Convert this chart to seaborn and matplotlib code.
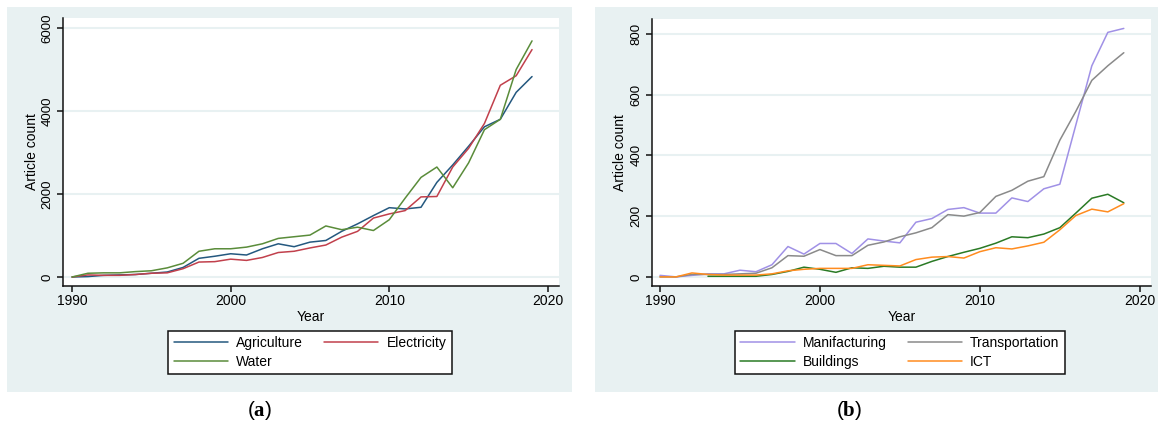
import numpy as np
import pandas as pd
import matplotlib
matplotlib.use("Agg")
import matplotlib.pyplot as plt
from matplotlib.patches import Rectangle
import seaborn as sns

years = list(range(1990, 2020))

# Panel (a)
agriculture = [0, 10, 40, 50, 60, 90, 120, 230, 450, 500, 560, 530, 680, 800, 730,
               840, 880, 1100, 1280, 1480, 1670, 1640, 1680, 2280, 2700, 3150, 3620,
               3800, 4450, 4830]
electricity = [0, 50, 40, 40, 60, 90, 100, 200, 360, 370, 430, 400, 470, 590, 620,
               700, 770, 960, 1100, 1420, 1520, 1600, 1930, 1940, 2650, 3100, 3700,
               4620, 4850, 5480]
water = [0, 90, 100, 100, 130, 150, 220, 330, 620, 680, 680, 720, 800, 930, 970,
         1010, 1230, 1140, 1200, 1120, 1380, 1900, 2400, 2650, 2150, 2750, 3550,
         3800, 5000, 5690]

# Panel (b)
manufacturing = [5, 0, 5, 10, 10, 22, 17, 40, 100, 75, 110, 110, 77, 125, 118,
                 112, 180, 192, 222, 228, 210, 210, 260, 248, 290, 305, 500, 695,
                 805, 818]
transportation = [0, 0, 8, 8, 8, 10, 12, 30, 70, 68, 90, 70, 70, 104, 115,
                  132, 145, 162, 205, 200, 212, 265, 285, 315, 330, 450, 545, 647,
                  695, 738]
buildings = [np.nan, np.nan, np.nan, 2, 2, 2, 2, 8, 18, 32, 25, 15, 30, 28, 35,
             32, 32, 51, 67, 81, 94, 111, 132, 129, 141, 162, 210, 259, 272, 244]
ict = [0, 0, 13, 8, 6, 6, 6, 10, 20, 25, 28, 28, 28, 40, 38,
       36, 57, 65, 67, 62, 83, 96, 92, 102, 114, 155, 202, 223, 214, 241]

sectors_a = ["Agriculture", "Electricity", "Water"]
colors_a = ["#24587f", "#c1404c", "#5a8c3a"]
sectors_b = ["Manifacturing", "Transportation", "Buildings", "ICT"]
colors_b = ["#a091e6", "#8a8a8a", "#2a7a25", "#ff8c1f"]

df_a = pd.DataFrame({"Year": years * 3,
                     "Count": agriculture + electricity + water,
                     "Sector": sum([[s] * len(years) for s in sectors_a], [])})
df_b = pd.DataFrame({"Year": years * 4,
                     "Count": manufacturing + transportation + buildings + ict,
                     "Sector": sum([[s] * len(years) for s in sectors_b], [])})

sns.set_theme(style="white")
plt.rcParams["font.family"] = ["Liberation Sans", "DejaVu Sans"]
plt.rcParams["mathtext.fontset"] = "custom"
plt.rcParams["mathtext.rm"] = "Liberation Serif"
plt.rcParams["mathtext.bf"] = "Liberation Serif:bold"

W, H = 1158, 423
fig = plt.figure(figsize=(W / 100, H / 100), dpi=100)
fig.patch.set_facecolor("white")

BG = "#e8f1f2"
TXT = "#000000"

def fx(px):
    return px / W

def fy(py):
    return 1 - py / H

# background panels
for (x0, x1) in [(7, 572), (595, 1158)]:
    fig.patches.append(Rectangle((fx(x0), fy(392)), fx(x1) - fx(x0), fy(7) - fy(392),
                                 transform=fig.transFigure, facecolor=BG,
                                 edgecolor="none", zorder=-10))

def make_axes(x0, x1, y0, y1):
    ax = fig.add_axes([fx(x0), fy(y1), fx(x1) - fx(x0), fy(y0) - fy(y1)])
    ax.set_facecolor("white")
    ax.set_zorder(2)
    return ax

ax_a = make_axes(63, 559, 18, 286)
ax_b = make_axes(652, 1151, 19, 286)

sns.lineplot(data=df_a, x="Year", y="Count", hue="Sector", palette=colors_a,
             hue_order=sectors_a, ax=ax_a, linewidth=1.1, legend=True)
sns.lineplot(data=df_b, x="Year", y="Count", hue="Sector", palette=colors_b,
             hue_order=sectors_b, ax=ax_b, linewidth=1.1, legend=True)

ax_a.set_xlim(1989.43, 2020.7)
ax_a.set_ylim(-217, 6241)
ax_a.set_yticks([0, 2000, 4000, 6000])
ax_b.set_xlim(1989.5, 2020.7)
ax_b.set_ylim(-30, 849)
ax_b.set_yticks([0, 200, 400, 600, 800])

for ax in (ax_a, ax_b):
    ax.set_xticks([1990, 2000, 2010, 2020])
    ax.grid(axis="y", color=BG, linewidth=1.5)
    ax.grid(axis="x", visible=False)
    ax.set_axisbelow(True)
    for s in ("top", "right"):
        ax.spines[s].set_visible(False)
    for s in ("left", "bottom"):
        ax.spines[s].set_color("#111111")
        ax.spines[s].set_linewidth(1.1)
    ax.tick_params(axis="both", direction="out", length=4, width=1.1,
                   color="#111111", labelcolor=TXT, bottom=True, left=True)
    ax.tick_params(axis="x", labelsize=10, pad=2)
    ax.tick_params(axis="y", labelsize=9.5, pad=3)
    for lab in ax.get_yticklabels():
        lab.set_rotation(90)
        lab.set_va("center")
        lab.set_ha("right")
    ax.set_xlabel("Year", fontsize=10, labelpad=1, color=TXT)
    ax.set_ylabel("Article count", fontsize=10, labelpad=2, color=TXT)

def place_legend(ax, order, center):
    handles, labels = ax.get_legend_handles_labels()
    ax.get_legend().remove()
    h = [handles[labels.index(o)] for o in order]
    leg = ax.legend(h, order, ncol=2, loc="center",
                    bbox_to_anchor=(fx(center[0]), fy(center[1])),
                    bbox_transform=fig.transFigure, frameon=True, fancybox=False,
                    edgecolor="#111111", facecolor="white", framealpha=1,
                    fontsize=10, handlelength=3.9, handletextpad=0.6,
                    columnspacing=1.5, labelspacing=0.35, borderpad=0.4,
                    borderaxespad=0)
    leg.get_frame().set_linewidth(1.1)
    for line in leg.get_lines():
        line.set_linewidth(1.1)
    for t in leg.get_texts():
        t.set_color(TXT)

place_legend(ax_a, ["Agriculture", "Water", "Electricity"], (310, 352.5))
place_legend(ax_b, ["Manifacturing", "Buildings", "Transportation", "ICT"], (900, 352.5))

fig.text(fx(260), fy(410), r"($\mathbf{a}$)", fontsize=15, ha="center", va="center",
         color=TXT)
fig.text(fx(849), fy(410), r"($\mathbf{b}$)", fontsize=15, ha="center", va="center",
         color=TXT)

fig.savefig("out.png", dpi=100, facecolor="white")
